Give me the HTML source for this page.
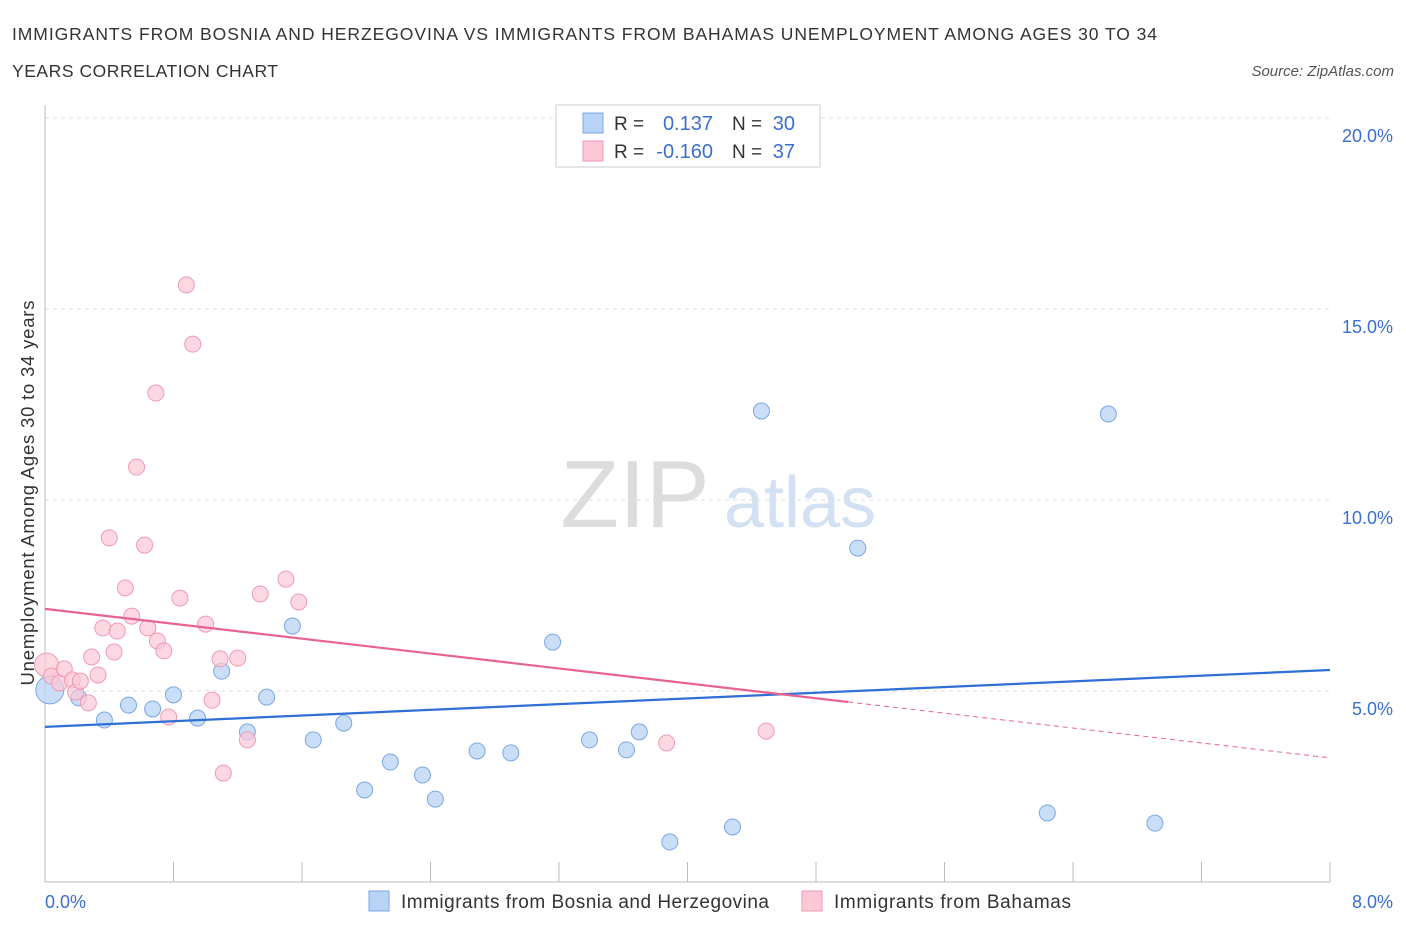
<!DOCTYPE html>
<html><head><meta charset="utf-8">
<style>
body{margin:0;background:#fff;font-family:"Liberation Sans",sans-serif;}
svg text{font-family:"Liberation Sans",sans-serif;}
</style></head>
<body>
<svg id="chart" width="1406" height="930" xmlns="http://www.w3.org/2000/svg">
<text x="12" y="40" font-size="17.5" fill="#333" textLength="1145" lengthAdjust="spacing">IMMIGRANTS FROM BOSNIA AND HERZEGOVINA VS IMMIGRANTS FROM BAHAMAS UNEMPLOYMENT AMONG AGES 30 TO 34</text>
<text x="12" y="77" font-size="17.5" fill="#333" textLength="266" lengthAdjust="spacing">YEARS CORRELATION CHART</text>
<text x="1394" y="76" font-size="15" fill="#555" font-style="italic" text-anchor="end">Source: ZipAtlas.com</text>
<text x="635" y="527" font-size="96" fill="#ddd" font-family="Liberation Serif" text-anchor="middle">ZIP</text>
<text x="800" y="527" font-size="72" fill="#d3e1f3" text-anchor="middle">atlas</text>
<g id="grid"></g>
<line x1="45" y1="105" x2="45" y2="882" stroke="#bbb"/>
<line x1="45" y1="882" x2="1330" y2="882" stroke="#bbb"/>
<g id="ticks"></g>
<g id="pts"></g>
<g id="trend"></g>
<text x="45" y="908" font-size="18" fill="#3a6fd0">0.0%</text>
<text x="1393" y="908" font-size="18" fill="#3a6fd0" text-anchor="end">8.0%</text>
<text transform="translate(34,493) rotate(-90)" font-size="18.5" fill="#333" text-anchor="middle" textLength="385" lengthAdjust="spacing">Unemployment Among Ages 30 to 34 years</text>
<g>
<rect x="556" y="105" width="264" height="62" fill="#fff" stroke="#ccc"/>
<rect x="583" y="113" width="20" height="20" fill="#b8d3f5" stroke="#7aa7e6"/>
<rect x="583" y="141" width="20" height="20" fill="#fcc8d7" stroke="#ef9ab2"/>
<text x="614" y="130" font-size="19" fill="#333">R =</text>
<text x="713" y="130" font-size="20" fill="#3a6fd0" text-anchor="end">0.137</text>
<text x="732" y="130" font-size="19" fill="#333">N =</text>
<text x="795" y="130" font-size="20" fill="#3a6fd0" text-anchor="end">30</text>
<text x="614" y="158" font-size="19" fill="#333">R =</text>
<text x="713" y="158" font-size="20" fill="#3a6fd0" text-anchor="end">-0.160</text>
<text x="732" y="158" font-size="19" fill="#333">N =</text>
<text x="795" y="158" font-size="20" fill="#3a6fd0" text-anchor="end">37</text>
</g>
<g>
<rect x="369" y="891" width="20" height="20" fill="#b8d3f5" stroke="#7aa7e6"/>
<text x="401" y="908" font-size="19" fill="#333" textLength="368" lengthAdjust="spacing">Immigrants from Bosnia and Herzegovina</text>
<rect x="802" y="891" width="20" height="20" fill="#fcc8d7" stroke="#ef9ab2"/>
<text x="834" y="908" font-size="19" fill="#333" textLength="237" lengthAdjust="spacing">Immigrants from Bahamas</text>
</g>
</svg>
<script>
const yTicks=[5,10,15,20];
const yTickLabels=["5.0%","10.0%","15.0%","20.0%"];
const xTicks=[0,0.8,1.6,2.4,3.2,4.0,4.8,5.6,6.4,7.2,8.0];
const blueX=[0.03,0.21,0.37,0.52,0.67,0.80,0.95,1.10,1.26,1.38,1.54,1.67,1.86,1.99,2.15,2.35,2.43,2.69,2.90,3.16,3.39,3.62,3.70,3.89,4.28,4.46,5.06,6.24,6.62,6.91];
const blueY=[5.03,4.82,4.24,4.63,4.53,4.90,4.29,5.52,3.93,4.84,6.70,3.72,4.16,2.41,3.14,2.80,2.17,3.43,3.38,6.28,3.72,3.46,3.93,1.05,1.44,12.33,8.74,1.81,12.25,1.54];
const pinkX=[0.01,0.04,0.09,0.12,0.17,0.19,0.22,0.27,0.29,0.33,0.36,0.40,0.43,0.45,0.50,0.54,0.57,0.62,0.64,0.69,0.70,0.74,0.77,0.84,0.88,0.92,1.00,1.04,1.09,1.11,1.20,1.26,1.34,1.50,1.58,3.87,4.49];
const pinkY=[5.68,5.39,5.21,5.58,5.29,4.97,5.26,4.69,5.89,5.42,6.65,9.01,6.02,6.57,7.70,6.96,10.86,8.82,6.65,12.80,6.31,6.05,4.32,7.43,15.63,14.08,6.75,4.76,5.84,2.85,5.86,3.72,7.54,7.93,7.33,3.64,3.95];
const blueTrend=[4.06,5.55];
const pinkTrend=[7.15,3.25];
const pinkSolidEnd=5.0;
const NS="http://www.w3.org/2000/svg";
const X=v=>45+v/8*1285;
const Y=v=>882-v*38.2;
function mk(tag,attrs,parent){const e=document.createElementNS(NS,tag);for(const k in attrs)e.setAttribute(k,attrs[k]);document.getElementById(parent).appendChild(e);return e;}
yTicks.forEach((t,i)=>{
 const l=mk('line',{x1:45,x2:1330,y1:Y(t),y2:Y(t),stroke:'#ddd','stroke-dasharray':'4,4'},'grid');
 
 
 const tx=mk('text',{x:1393,y:Y(t)+24,'font-size':18,fill:'#3a6fd0','text-anchor':'end'},'grid');
 tx.textContent=yTickLabels[i];
 
 
});
xTicks.forEach(t=>{
 const l=mk('line',{x1:X(t),x2:X(t),y1:862,y2:882,stroke:'#bbb'},'ticks');
 
 
});
blueX.forEach((v,i)=>{
 const c=mk('circle',{cx:X(v),cy:Y(blueY[i]),r:i==0?14:8,fill:'#b8d3f5','fill-opacity':0.75,stroke:'#7aa7e6'},'pts');
 
 
});
pinkX.forEach((v,i)=>{
 const c=mk('circle',{cx:X(v),cy:Y(pinkY[i]),r:i==0?12:8,fill:'#fcc8d7','fill-opacity':0.7,stroke:'#ef9ab2'},'pts');
 
 
});
const pAt=x=>pinkTrend[0]+(pinkTrend[1]-pinkTrend[0])*x/8;
let b=mk('line',{x1:X(0),y1:Y(blueTrend[0]),x2:X(8),y2:Y(blueTrend[1]),stroke:'#2f6fd6','stroke-width':2.2},'trend');


let p=mk('line',{x1:X(0),y1:Y(pAt(0)),x2:X(pinkSolidEnd),y2:Y(pAt(pinkSolidEnd)),stroke:'#e8638f','stroke-width':2.2},'trend');


let pd=mk('line',{x1:X(pinkSolidEnd),y1:Y(pAt(pinkSolidEnd)),x2:X(8),y2:Y(pAt(8)),stroke:'#e8638f','stroke-width':1,'stroke-dasharray':'5,4'},'trend');


</script>
</body></html>
